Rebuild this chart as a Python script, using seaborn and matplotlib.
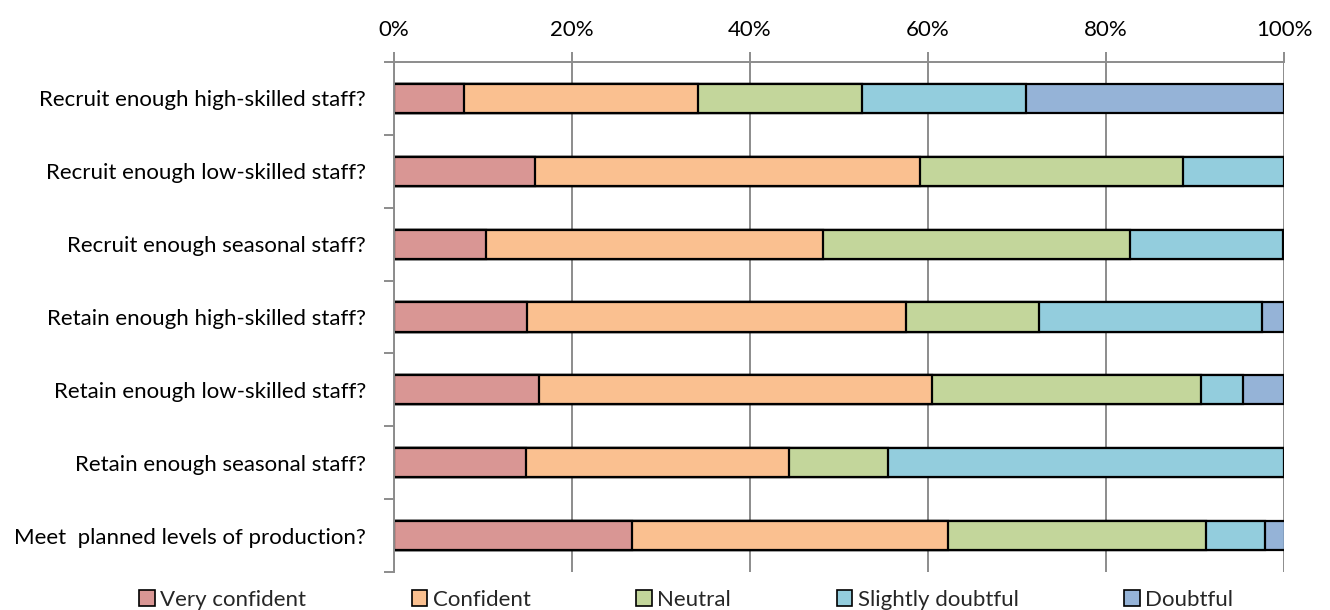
import matplotlib
matplotlib.use("Agg")
import matplotlib.pyplot as plt
from matplotlib.patches import Patch
from matplotlib.ticker import FixedLocator, PercentFormatter
import numpy as np
import pandas as pd
import seaborn as sns

# Survey questions (top to bottom)
questions = [
    "Recruit enough high-skilled staff?",
    "Recruit enough low-skilled staff?",
    "Recruit enough seasonal staff?",
    "Retain enough high-skilled staff?",
    "Retain enough low-skilled staff?",
    "Retain enough seasonal staff?",
    "Meet  planned levels of production?",
]

# Share of responses (%) per answer category
very_confident = [7.9, 15.9, 10.3, 15.0, 16.3, 14.8, 26.7]
confident = [26.3, 43.2, 37.9, 42.5, 44.2, 29.6, 35.6]
neutral = [18.4, 29.5, 34.5, 15.0, 30.2, 11.1, 28.9]
slightly_doubtful = [18.4, 11.4, 17.2, 25.0, 4.7, 44.5, 6.7]
doubtful = [29.0, 0.0, 0.0, 2.5, 4.6, 0.0, 2.2]

answers = ["Very confident", "Confident", "Neutral", "Slightly doubtful", "Doubtful"]
colors = ["#D99694", "#FAC090", "#C3D69B", "#93CDDD", "#95B3D7"]

df = pd.DataFrame(
    {
        "question": questions,
        "Very confident": very_confident,
        "Confident": confident,
        "Neutral": neutral,
        "Slightly doubtful": slightly_doubtful,
        "Doubtful": doubtful,
    }
)
cum = df[answers].cumsum(axis=1)

sns.set_theme(style="white")
plt.rcParams["font.family"] = ["Lato", "DejaVu Sans"]

fig = plt.figure(figsize=(13.3, 6.1), dpi=100)
ax = fig.add_axes([0.2962, 0.0623, 0.6692, 0.8361])

# Stacked bars: draw cumulative totals from the outermost segment inward
for ans, col in zip(reversed(answers), reversed(colors)):
    sns.barplot(
        data=cum.assign(question=df["question"]),
        x=ans,
        y="question",
        order=questions,
        color=col,
        orient="h",
        width=0.4,
        edgecolor="black",
        linewidth=1.6,
        saturation=1,
        ax=ax,
    )

grid_col = "#8C8C8C"
fs = 16
ax.set_xlim(0, 100)
ax.set_ylim(len(questions) - 0.5, -0.5)
ax.xaxis.set_major_locator(FixedLocator([0, 20, 40, 60, 80, 100]))
ax.xaxis.set_major_formatter(PercentFormatter(decimals=0))
ax.xaxis.tick_top()
ax.grid(axis="x", color=grid_col, linewidth=1.4)
ax.grid(axis="y", visible=False)
ax.set_axisbelow(True)
ax.set_xlabel("")
ax.set_ylabel("")

for side in ["right", "bottom"]:
    ax.spines[side].set_visible(False)
for side in ["top", "left"]:
    ax.spines[side].set_visible(True)
    ax.spines[side].set_color(grid_col)
    ax.spines[side].set_linewidth(1.4)

ax.tick_params(axis="x", which="major", top=True, bottom=False, length=7,
               width=1.4, color=grid_col, labelsize=fs, pad=9,
               labelcolor="black")
# Category labels without ticks; ticks sit on the boundaries between rows
ax.tick_params(axis="y", which="major", left=False, labelsize=fs, pad=14,
               labelcolor="black")
ax.yaxis.set_minor_locator(FixedLocator(np.arange(-0.5, len(questions), 1.0)))
ax.tick_params(axis="y", which="minor", left=True, length=7, width=1.4,
               color=grid_col)

handles = [Patch(facecolor=c, edgecolor="black", linewidth=1.2) for c in colors]
fig.legend(
    handles,
    answers,
    loc="lower center",
    bbox_to_anchor=(0.516, -0.032),
    ncol=5,
    frameon=False,
    fontsize=fs,
    handlelength=0.7,
    handleheight=0.7,
    handletextpad=0.25,
    columnspacing=4.75,
)

fig.savefig("out.png", dpi=100)
